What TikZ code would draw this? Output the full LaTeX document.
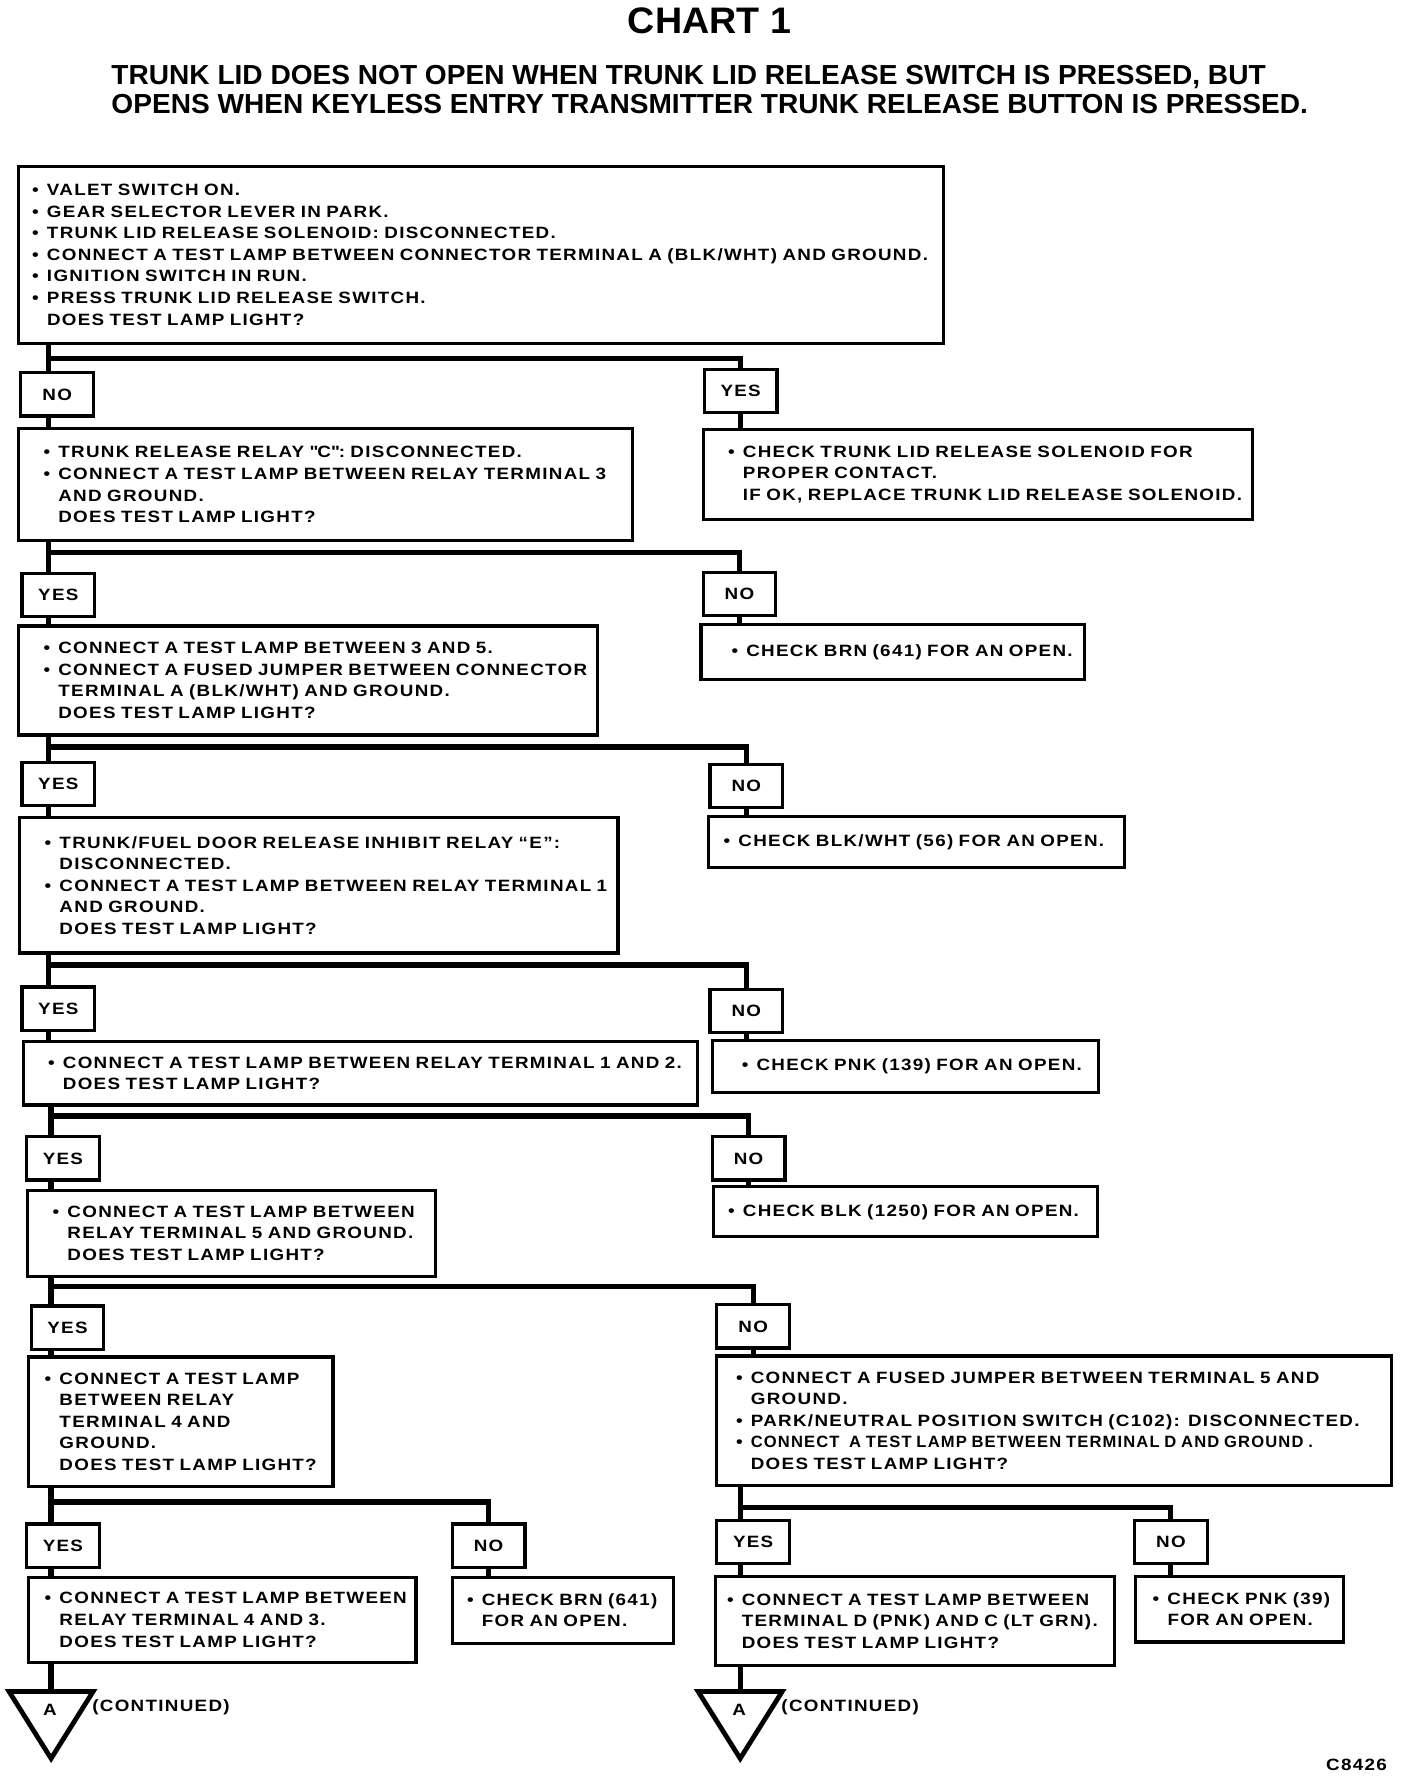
\documentclass[tikz,border=0pt]{standalone}
\usepackage{fontspec}
\setmainfont{Liberation Sans}[FakeStretch=1.15,LetterSpace=8,WordSpace=1.4]
\newfontfamily\headfont{Liberation Sans}[FakeStretch=1.02]
\usepackage{graphicx}
\newdimen\pxu \pxu=0.02cm
\newcommand\bul{\makebox[13\pxu][l]{•}}
\newcommand\ind{\hspace*{13\pxu}}

\begin{document}
\begin{tikzpicture}[x=0.02cm, y=-0.02cm,
	every node/.style={font=\bfseries\fontsize{8.2}{10.8}\selectfont},
	box/.style n args={3}{draw, line width=1.6pt, anchor=north west, align=left, inner sep=0pt,
		minimum width=#1*0.02cm, minimum height=#2*0.02cm, text width=#1*0.02cm,
		execute at begin node={\leftskip=#3\pxu\rightskip=-3cm plus 1fil}},
	lab/.style={draw, line width=1.6pt, anchor=north west, inner sep=0pt,
		minimum width=64*0.02cm, minimum height=38*0.02cm},
	wire/.style={line width=2.6pt},
	tri/.style={line width=2.4pt, line join=miter}]
		\useasboundingbox (0,0) rectangle (1240,1575);

		% heading
		\node[font=\headfont\bfseries\fontsize{18.5}{20}\selectfont] (title) at (625,18) {CHART 1};
		\node[font=\headfont\bfseries\fontsize{13.8}{14.8}\selectfont, align=left, anchor=west] (sub) at (92,79)
			{TRUNK LID DOES NOT OPEN WHEN TRUNK LID RELEASE SWITCH IS PRESSED, BUT\\
			OPENS WHEN KEYLESS ENTRY TRANSMITTER TRUNK RELEASE BUTTON IS PRESSED.};

		% first check
		\node[box={815}{156}{12}] (b1) at (15,145) {\bul VALET SWITCH ON.\\
			\bul GEAR SELECTOR LEVER IN PARK.\\
			\bul TRUNK LID RELEASE SOLENOID: DISCONNECTED.\\
			\bul CONNECT A TEST LAMP BETWEEN CONNECTOR TERMINAL A (BLK/WHT) AND GROUND.\\
			\bul IGNITION SWITCH IN RUN.\\
			\bul PRESS TRUNK LID RELEASE SWITCH.\\
			\ind DOES TEST LAMP LIGHT?};
		\node[lab] (no1) at (17,327) {NO};
		\node[lab] (yes1) at (619,324) {YES};
		\node[box={541}{99}{22}] (b2) at (15,376) {\bul TRUNK RELEASE RELAY \textquotedbl C\textquotedbl: DISCONNECTED.\\
			\bul CONNECT A TEST LAMP BETWEEN RELAY TERMINAL 3\\
			\ind AND GROUND.\\
			\ind DOES TEST LAMP LIGHT?};
		\node[box={484}{79}{22}] (r1) at (618,377) {\bul CHECK TRUNK LID RELEASE SOLENOID FOR\\
			\ind PROPER CONTACT.\\
			\ind IF OK, REPLACE TRUNK LID RELEASE SOLENOID.};

		% relay C
		\node[lab] (yes2) at (18,504) {YES};
		\node[lab] (no2) at (618,503) {NO};
		\node[box={510}{96}{22}] (b3) at (15,550) {\bul CONNECT A TEST LAMP BETWEEN 3 AND 5.\\
			\bul CONNECT A FUSED JUMPER BETWEEN CONNECTOR\\
			\ind TERMINAL A (BLK/WHT) AND GROUND.\\
			\ind DOES TEST LAMP LIGHT?};
		\node[box={338}{48}{27}] (r2) at (616,549) {\bul CHECK BRN (641) FOR AN OPEN.};

		% terminals 3 and 5
		\node[lab] (yes3) at (18,670) {YES};
		\node[lab] (no3) at (624,672) {NO};
		\node[box={527}{119}{22}] (b4) at (16,719) {\bul TRUNK/FUEL DOOR RELEASE INHIBIT RELAY “E”:\\
			\ind DISCONNECTED.\\
			\bul CONNECT A TEST LAMP BETWEEN RELAY TERMINAL 1\\
			\ind AND GROUND.\\
			\ind DOES TEST LAMP LIGHT?};
		\node[box={366}{45}{13}] (r3) at (623,718) {\bul CHECK BLK/WHT (56) FOR AN OPEN.};

		% relay E
		\node[lab] (yes4) at (18,868) {YES};
		\node[lab] (no4) at (624,870) {NO};
		\node[box={594}{56}{22}] (b5) at (19,916) {\bul CONNECT A TEST LAMP BETWEEN RELAY TERMINAL 1 AND 2.\\
			\ind DOES TEST LAMP LIGHT?};
		\node[box={340}{46}{26}] (r4) at (626,915) {\bul CHECK PNK (139) FOR AN OPEN.};

		% terminals 1 and 2
		\node[lab] (yes5) at (22,1000) {YES};
		\node[lab] (no5) at (626,1000) {NO};
		\node[box={359}{76}{22}] (b6) at (23,1047) {\bul CONNECT A TEST LAMP BETWEEN\\
			\ind RELAY TERMINAL 5 AND GROUND.\\
			\ind DOES TEST LAMP LIGHT?};
		\node[box={338}{44}{13}] (r5) at (627,1044) {\bul CHECK BLK (1250) FOR AN OPEN.};

		% terminal 5
		\node[lab] (yes6) at (26,1149) {YES};
		\node[lab] (no6) at (630,1148) {NO};
		\node[box={268}{114}{14}] (b7) at (24,1194) {\bul CONNECT A TEST LAMP\\
			\ind BETWEEN RELAY\\
			\ind TERMINAL 4 AND\\
			\ind GROUND.\\
			\ind DOES TEST LAMP LIGHT?};
		\node[box={594}{114}{17}] (b8) at (630,1193) {\bul CONNECT A FUSED JUMPER BETWEEN TERMINAL 5 AND\\
			\ind GROUND.\\
			\bul PARK/NEUTRAL POSITION SWITCH (C102): DISCONNECTED.\\
			\bul \scalebox{0.88}[1]{CONNECT\ \ A TEST LAMP BETWEEN TERMINAL D AND GROUND .}\\
			\ind DOES TEST LAMP LIGHT?};

		% terminal 4 / terminal D
		\node[lab] (yes7) at (22,1341) {YES};
		\node[lab] (no7) at (397,1341) {NO};
		\node[box={341}{75}{14}] (b9) at (24,1388) {\bul CONNECT A TEST LAMP BETWEEN\\
			\ind RELAY TERMINAL 4 AND 3.\\
			\ind DOES TEST LAMP LIGHT?};
		\node[box={195}{58}{13}] (r7) at (397,1388) {\bul CHECK BRN (641)\\
			\ind FOR AN OPEN.};
		\node[lab] (yes8) at (630,1338) {YES};
		\node[lab] (no8) at (998,1338) {NO};
		\node[box={351}{79}{10}] (b10) at (629,1387) {\bul CONNECT A TEST LAMP BETWEEN\\
			\ind TERMINAL D (PNK) AND C (LT GRN).\\
			\ind DOES TEST LAMP LIGHT?};
		\node[box={183}{58}{15}] (r8) at (999,1387) {\bul CHECK PNK (39)\\
			\ind FOR AN OPEN.};

		% splits
		\coordinate (s1) at (43,316);
		\coordinate (s2) at (43,487);
		\coordinate (s3) at (43,658);
		\coordinate (s4) at (43,850);
		\coordinate (s5) at (45,983);
		\coordinate (s6) at (45,1133);
		\coordinate (s7) at (45,1323);
		\coordinate (s8) at (652,1328);

		\draw[wire] (s1 |- b1.south) -- (s1 |- no1.north) (s1) -| (yes1.north)
			(s1 |- no1.south) -- (s1 |- b2.north) (yes1.south) -- (yes1.south |- r1.north);
		\draw[wire] (s2 |- b2.south) -- (s2 |- yes2.north) (s2) -| (no2.north)
			(s2 |- yes2.south) -- (s2 |- b3.north) (no2.south) -- (no2.south |- r2.north);
		\draw[wire] (s3 |- b3.south) -- (s3 |- yes3.north) (s3) -| (no3.north)
			(s3 |- yes3.south) -- (s3 |- b4.north) (no3.south) -- (no3.south |- r3.north);
		\draw[wire] (s4 |- b4.south) -- (s4 |- yes4.north) (s4) -| (no4.north)
			(s4 |- yes4.south) -- (s4 |- b5.north) (no4.south) -- (no4.south |- r4.north);
		\draw[wire] (s5 |- b5.south) -- (s5 |- yes5.north) (s5) -| (no5.north)
			(s5 |- yes5.south) -- (s5 |- b6.north) (no5.south) -- (no5.south |- r5.north);
		\draw[wire] (s6 |- b6.south) -- (s6 |- yes6.north) (s6) -| (no6.north)
			(s6 |- yes6.south) -- (s6 |- b7.north) (no6.south) -- (no6.south |- b8.north);
		\draw[wire] (s7 |- b7.south) -- (s7 |- yes7.north) (s7) -| (no7.north)
			(s7 |- yes7.south) -- (s7 |- b9.north) (no7.south) -- (no7.south |- r7.north);
		\draw[wire] (s8 |- b8.south) -- (s8 |- yes8.north) (s8) -| (no8.north)
			(s8 |- yes8.south) -- (s8 |- b10.north) (no8.south) -- (no8.south |- r8.north);

		% continued
		\coordinate (ta1) at (45,1490);
		\coordinate (ta2) at (652,1490);
		\draw[wire] (s7 |- b9.south) -- (ta1);
		\draw[wire] (s8 |- b10.south) -- (ta2);
		\draw[tri] (ta1) ++(-37,0) -- ++(74,0) -- ++(-37,59) -- cycle;
		\draw[tri] (ta2) ++(-37,0) -- ++(74,0) -- ++(-37,59) -- cycle;
		\node (a1) at (44,1506) {A};
		\node (a2) at (651,1506) {A};
		\node[anchor=west, inner sep=0pt] (c1) at (81,1504) {(CONTINUED)};
		\node[anchor=west, inner sep=0pt] (c2) at (688,1504) {(CONTINUED)};

		\node[anchor=east, inner sep=0pt] (code) at (1222,1555) {C8426};
	\end{tikzpicture}
\end{document}
